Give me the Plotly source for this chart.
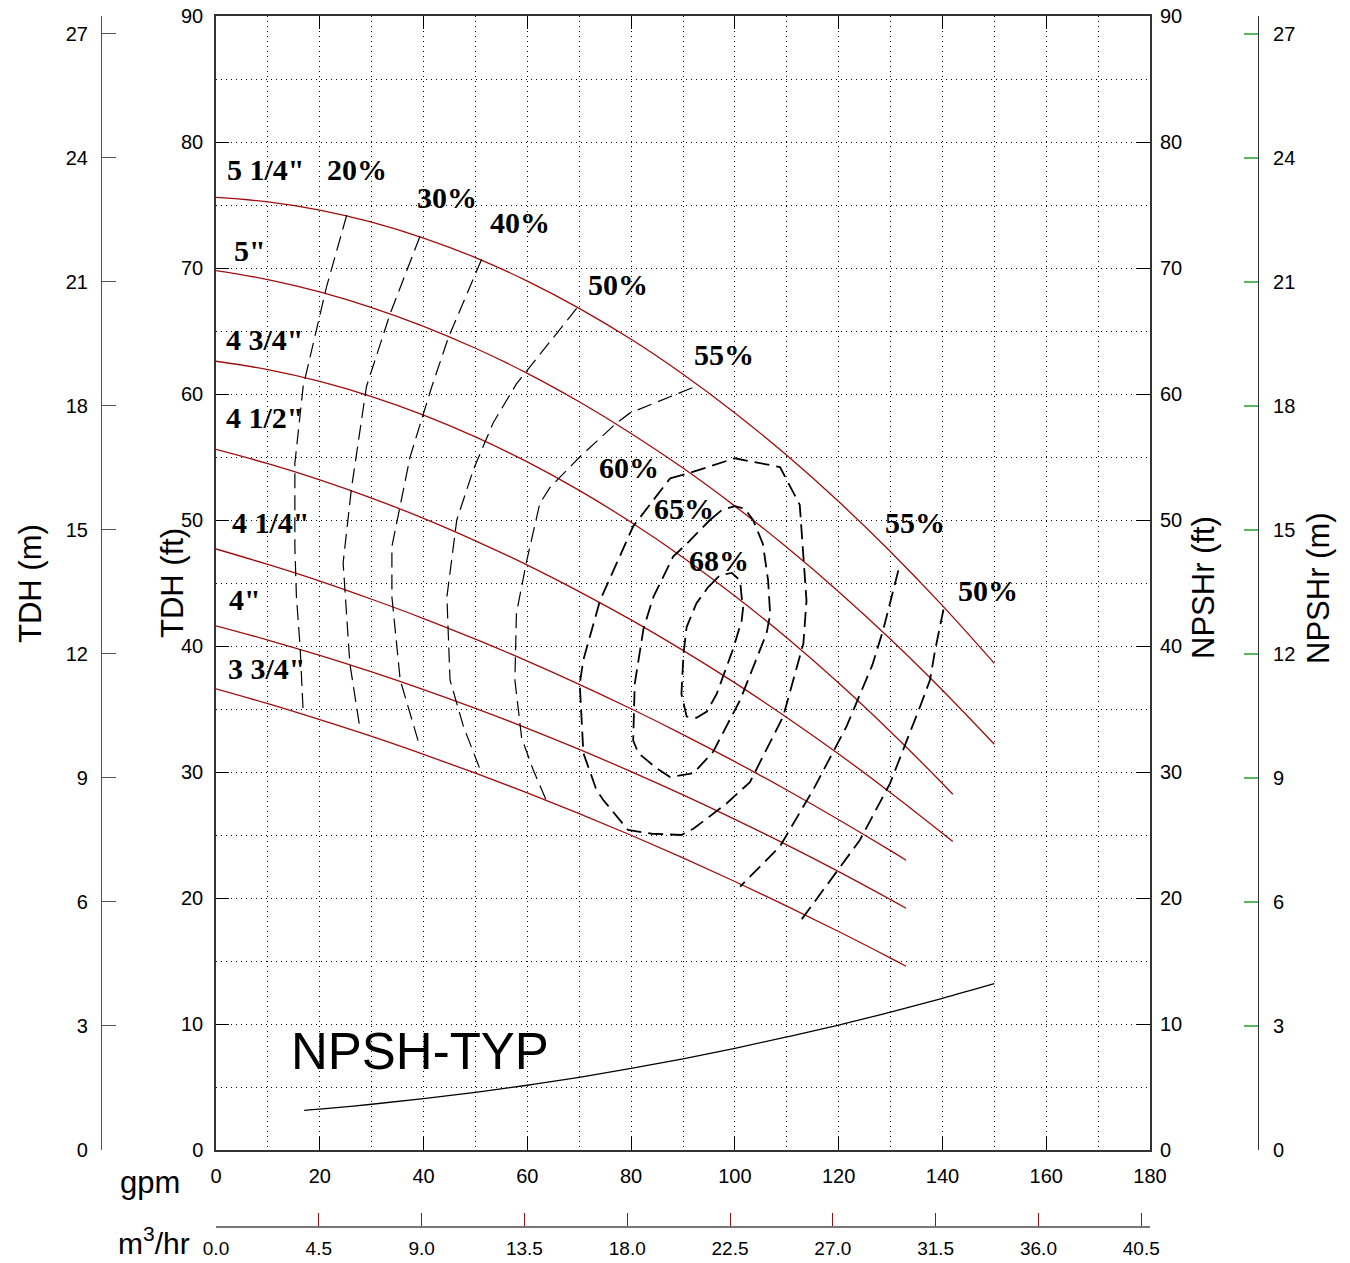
import plotly.graph_objects as go

W, H = 1350, 1263

# ---------------- data ----------------
Q_150 = [0, 10, 20, 30, 40, 50, 60, 70, 80, 90, 100, 110, 120, 130, 140, 150]
Q_142 = [0, 10, 20, 30, 40, 50, 60, 70, 80, 90, 100, 110, 120, 130, 140, 142]
Q_133 = [0, 10, 20, 30, 40, 50, 60, 70, 80, 90, 100, 110, 120, 130, 133]

HEAD_5_1_4 = [75.6, 75.25, 74.6, 73.64, 72.38, 70.83, 68.96, 66.8, 64.34, 61.57, 58.5, 55.13, 51.46, 47.48, 43.2, 38.62]
HEAD_5 = [69.8, 69.08, 68.1, 66.86, 65.37, 63.63, 61.64, 59.38, 56.87, 54.12, 51.1, 47.83, 44.31, 40.53, 36.49, 32.2]
HEAD_4_3_4 = [62.6, 61.93, 61.0, 59.8, 58.33, 56.6, 54.61, 52.35, 49.82, 47.03, 43.97, 40.65, 37.06, 33.2, 29.09, 28.23]
HEAD_4_1_2 = [55.6, 54.47, 53.19, 51.74, 50.13, 48.35, 46.42, 44.32, 42.07, 39.65, 37.07, 34.33, 31.43, 28.36, 25.14, 24.48]
HEAD_4_1_4 = [47.7, 46.47, 45.15, 43.71, 42.18, 40.54, 38.8, 36.96, 35.02, 32.97, 30.82, 28.57, 26.21, 23.76, 23.0]
HEAD_4 = [41.6, 40.47, 39.25, 37.94, 36.54, 35.05, 33.47, 31.8, 30.03, 28.18, 26.24, 24.21, 22.09, 19.87, 19.19]
HEAD_3_3_4 = [36.6, 35.42, 34.15, 32.82, 31.4, 29.91, 28.34, 26.7, 24.98, 23.18, 21.31, 19.36, 17.34, 15.23, 14.58]

IMPELLER_NAMES = ['5 1/4"', '5"', '4 3/4"', '4 1/2"', '4 1/4"', '4"', '3 3/4"']

Q_NPSH = [17, 20, 30, 40, 50, 60, 70, 80, 90, 100, 110, 120, 130, 140, 150]
NPSH_FT = [3.15, 3.25, 3.63, 4.07, 4.57, 5.14, 5.77, 6.47, 7.24, 8.07, 8.97, 9.92, 10.95, 12.04, 13.2]

EFF20_Q = [25.2, 21.3, 16.8, 15.2, 15.2, 15.5, 16.2, 16.8]
EFF20_H = [74.2, 68.5, 60.6, 54.5, 47.9, 43.9, 40.0, 34.8]
EFF30_Q = [39.3, 33.5, 29.0, 26.1, 24.5, 24.9, 25.8, 27.8]
EFF30_H = [72.5, 66.3, 60.6, 52.5, 46.6, 43.9, 38.6, 33.3]
EFF40_Q = [51.2, 44.8, 41.6, 37.4, 33.9, 33.9, 35.5, 39.3]
EFF40_H = [70.7, 64.5, 60.6, 55.0, 47.9, 43.9, 37.3, 32.0]
EFF50_Q = [69.5, 64.4, 57.9, 53.4, 49.6, 46.4, 44.5, 45.1, 47.7, 50.9]
EFF50_H = [66.8, 64.2, 60.8, 57.7, 54.0, 50.0, 43.9, 37.3, 33.6, 30.2]
EFF55L_Q = [91.8, 79.8, 77.2, 70.1, 64.4, 62.4, 59.9, 57.9, 57.6, 58.9, 61.1, 63.7]
EFF55L_H = [60.5, 58.5, 57.7, 55.0, 52.6, 51.3, 46.8, 42.6, 37.3, 32.7, 30.2, 27.7]
EFF55R_Q = [131.5, 128.6, 126.5, 121.5, 115.1, 108.7, 101.0]
EFF55R_H = [46.0, 41.3, 38.5, 33.6, 28.6, 24.1, 20.9]
EFF50R_Q = [140.2, 138.6, 137.6, 135.7, 129.9, 124.1, 112.5]
EFF50R_H = [42.9, 39.7, 37.3, 35.2, 29.1, 24.6, 18.1]
EFF60_Q = [87.5, 91.0, 100.0, 108.7, 112.5, 113.8, 113.2, 109.3, 102.9, 98.4, 96.5, 92.0, 89.7, 84.0, 79.4, 74.6, 73.3, 70.8, 70.1, 70.8, 74.0, 80.4, 87.5]
EFF60_H = [53.3, 53.7, 54.9, 54.2, 51.2, 43.6, 40.2, 34.4, 29.2, 27.5, 26.9, 25.5, 25.0, 25.1, 25.4, 27.8, 28.6, 31.5, 37.0, 38.9, 43.6, 49.5, 53.3]
EFF65_Q = [95.2, 97.5, 100.0, 101.9, 103.5, 105.4, 106.4, 106.8, 106.1, 101.0, 95.8, 92.0, 87.5, 84.9, 81.4, 80.4, 80.7, 82.4, 84.3, 88.1, 90.7, 95.2]
EFF65_H = [50.0, 50.8, 51.1, 50.9, 50.0, 48.1, 45.2, 42.5, 41.0, 35.7, 31.6, 29.9, 29.6, 30.3, 31.5, 32.5, 37.0, 41.4, 43.9, 47.1, 48.1, 50.0]
EFF68_Q = [94.9, 97.1, 99.4, 101.0, 101.3, 101.6, 101.3, 99.6, 96.5, 94.6, 92.6, 90.7, 89.7, 90.1, 90.7, 92.6, 94.9]
EFF68_H = [44.7, 45.6, 45.8, 45.2, 43.9, 43.1, 42.0, 39.7, 36.2, 34.8, 34.3, 34.4, 36.2, 39.4, 41.5, 43.4, 44.7]

# label texts and their anchor points in data units (gpm, ft)
IMP_LABEL_Q = [9.6, 6.6, 9.4, 9.4, 10.6, 5.6, 9.8]
IMP_LABEL_H = [77.8, 71.4, 64.3, 58.1, 49.8, 43.7, 38.2]
EFF_LABELS = ["20%", "30%", "40%", "50%", "55%", "60%", "65%", "68%", "55%", "50%"]
EFF_LABEL_Q = [27.2, 44.5, 58.6, 77.5, 97.9, 79.6, 90.2, 96.9, 134.7, 148.8]
EFF_LABEL_H = [77.8, 75.6, 73.6, 68.7, 63.1, 54.2, 50.9, 46.8, 49.8, 44.4]

M3HR_TICKS = [0.0, 4.5, 9.0, 13.5, 18.0, 22.5, 27.0, 31.5, 36.0, 40.5]
GPM_PER_M3HR = 4.4029
FT_PER_M = 1 / 0.3048
GPM_MAX = 180
FT_MAX = 90

# ---------------- figure ----------------
RED = "#a00c0c"
SANS = "Arial, Liberation Sans, Helvetica, sans-serif"
SERIF = "Times New Roman, Liberation Serif, serif"

fig = go.Figure()

for q, h in [(Q_150, HEAD_5_1_4), (Q_150, HEAD_5), (Q_142, HEAD_4_3_4), (Q_142, HEAD_4_1_2),
             (Q_133, HEAD_4_1_4), (Q_133, HEAD_4), (Q_133, HEAD_3_3_4)]:
    fig.add_trace(go.Scatter(x=q, y=h, mode="lines", line=dict(color=RED, width=1.3, shape="spline"),
                             hoverinfo="skip", showlegend=False))

fig.add_trace(go.Scatter(x=Q_NPSH, y=NPSH_FT, mode="lines", line=dict(color="black", width=1.3, shape="spline"),
                         hoverinfo="skip", showlegend=False))

thin = [(EFF20_Q, EFF20_H), (EFF30_Q, EFF30_H), (EFF40_Q, EFF40_H), (EFF50_Q, EFF50_H), (EFF55L_Q, EFF55L_H)]
thick = [(EFF55R_Q, EFF55R_H), (EFF50R_Q, EFF50R_H), (EFF60_Q, EFF60_H), (EFF65_Q, EFF65_H), (EFF68_Q, EFF68_H)]
for q, h in thin:
    fig.add_trace(go.Scatter(x=q, y=h, mode="lines", line=dict(color="black", width=1.2, dash="15px,7px"),
                             hoverinfo="skip", showlegend=False))
for q, h in thick:
    fig.add_trace(go.Scatter(x=q, y=h, mode="lines", line=dict(color="black", width=1.8, dash="15px,7px"),
                             hoverinfo="skip", showlegend=False))

# invisible carrier traces so that the secondary axes are drawn
for xa, ya in [("x2", "y"), ("x", "y2"), ("x", "y3"), ("x", "y4")]:
    fig.add_trace(go.Scatter(x=[0], y=[0], xaxis=xa, yaxis=ya, mode="markers",
                             marker=dict(size=1, opacity=0), hoverinfo="skip", showlegend=False))

ann = []
LABEL_FONT = dict(family=SERIF, size=30, color="black", weight="bold")
for t, q, h in zip(IMPELLER_NAMES, IMP_LABEL_Q, IMP_LABEL_H):
    ann.append(dict(x=q, y=h, xref="x", yref="y", text=t, showarrow=False, font=LABEL_FONT,
                    xanchor="center", yanchor="middle"))
for t, q, h in zip(EFF_LABELS, EFF_LABEL_Q, EFF_LABEL_H):
    ann.append(dict(x=q, y=h, xref="x", yref="y", text=t, showarrow=False, font=LABEL_FONT,
                    xanchor="center", yanchor="middle"))
ann.append(dict(x=39.3, y=7.8, xref="x", yref="y", text="NPSH-TYP", showarrow=False,
                xanchor="center", yanchor="middle", font=dict(family=SANS, size=51, color="black")))


def px(xp, yp):
    return xp / W, 1 - yp / H


for text, xp, yp in [("TDH (m)", 30, 584), ("TDH (ft)", 172, 583), ("NPSHr (ft)", 1203, 588), ("NPSHr (m)", 1318, 588)]:
    xx, yy = px(xp, yp)
    ann.append(dict(x=xx, y=yy, xref="paper", yref="paper", text=text, textangle=-90, showarrow=False,
                    xanchor="center", yanchor="middle", font=dict(family=SANS, size=31, color="black")))
xx, yy = px(150, 1182)
ann.append(dict(x=xx, y=yy, xref="paper", yref="paper", text="gpm", showarrow=False,
                xanchor="center", yanchor="middle", font=dict(family=SANS, size=31, color="black")))
xx, yy = px(154, 1241)
ann.append(dict(x=xx, y=yy, xref="paper", yref="paper", text="m<sup>3</sup>/hr", showarrow=False,
                xanchor="center", yanchor="middle", font=dict(family=SANS, size=30, color="black")))

xdom = [216 / W, 1150 / W]
ydom = [1 - 1150 / H, 1 - 16 / H]
DOT = "1px,4px"
GRID = "#000000"
tickfont = dict(family=SANS, size=20, color="black")

fig.update_layout(
    width=W, height=H, margin=dict(l=0, r=0, t=0, b=0),
    paper_bgcolor="white", plot_bgcolor="white", showlegend=False,
    annotations=ann,
    xaxis=dict(domain=xdom, range=[0, GPM_MAX], tick0=0, dtick=20, ticks="inside", ticklen=13,
               tickcolor="black", tickwidth=1, showline=True, linecolor="#333", linewidth=1.5,
               mirror="ticks", showgrid=True, gridcolor=GRID, griddash=DOT, gridwidth=1,
               minor=dict(dtick=10, showgrid=True, gridcolor=GRID, griddash=DOT, gridwidth=1, ticklen=0),
               zeroline=False, tickfont=tickfont, ticklabelstandoff=7, automargin=False, anchor="y"),
    xaxis2=dict(overlaying="x", anchor="free", position=1 - 1227 / H, side="bottom",
                range=[0, GPM_MAX / GPM_PER_M3HR], tickmode="array", tickvals=M3HR_TICKS,
                ticktext=[f"{v:.1f}" for v in M3HR_TICKS], ticks="inside", ticklen=13,
                tickcolor=RED, tickwidth=1, showline=True, linecolor="#777", linewidth=2,
                showgrid=False, zeroline=False, tickfont=dict(family=SANS, size=19, color="black"),
                ticklabelstandoff=4, automargin=False),
    yaxis=dict(domain=ydom, range=[0, FT_MAX], tick0=0, dtick=10, ticks="inside", ticklen=13,
               tickcolor="black", tickwidth=1, showline=True, linecolor="#333", linewidth=1.5,
               mirror="ticks", showgrid=True, gridcolor=GRID, griddash=DOT, gridwidth=1,
               minor=dict(dtick=5, showgrid=True, gridcolor=GRID, griddash=DOT, gridwidth=1, ticklen=0),
               zeroline=False, tickfont=tickfont, ticklabelstandoff=7, automargin=False, anchor="x"),
    yaxis2=dict(overlaying="y", side="right", anchor="x", range=[0, FT_MAX], tick0=0, dtick=10,
                ticks="", showline=False, showgrid=False, zeroline=False, tickfont=tickfont,
                ticklabelstandoff=9, automargin=False),
    yaxis3=dict(overlaying="y", anchor="free", position=101 / W, side="left",
                range=[0, FT_MAX / FT_PER_M], tick0=0, dtick=3, ticks="inside", ticklen=14,
                tickcolor="#555", showline=True, linecolor="#555", linewidth=1.2, showgrid=False,
                zeroline=False, tickfont=tickfont, ticklabelstandoff=9, automargin=False),
    yaxis4=dict(overlaying="y", anchor="free", position=1258 / W, side="right",
                range=[0, FT_MAX / FT_PER_M], tick0=0, dtick=3, ticks="inside", ticklen=14,
                tickcolor="#5cb85c", tickwidth=1.5, showline=True, linecolor="#333", linewidth=1.2,
                showgrid=False, zeroline=False, tickfont=tickfont, ticklabelstandoff=10, automargin=False),
)

fig.write_html("out.html")
